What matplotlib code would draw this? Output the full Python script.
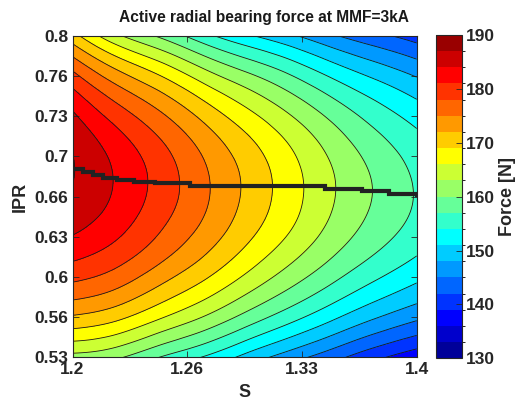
import numpy as np
import matplotlib
matplotlib.use("Agg")
import matplotlib.pyplot as plt
import matplotlib.tri as mtri
from matplotlib.colors import ListedColormap, BoundaryNorm
from matplotlib.cm import ScalarMappable

# Stator-to-rotor ratio S (columns) and inner pole ratio IPR (rows)
S_values = [1.200, 1.225, 1.250, 1.275, 1.300, 1.325, 1.350, 1.375, 1.400]
IPR_values = [0.53, 0.56, 0.59, 0.62, 0.65, 0.68, 0.71, 0.74, 0.77, 0.80]

# Radial bearing force [N]; one row per IPR value, one column per S value
force_053 = [161.9, 160.5, 157.0, 153.9, 150.1, 146.5, 143.2, 139.8, 137.0]
force_056 = [170.6, 168.9, 165.5, 162.1, 158.2, 154.5, 150.9, 147.5, 144.8]
force_059 = [177.4, 175.5, 172.0, 168.4, 164.4, 160.5, 156.8, 153.4, 150.6]
force_062 = [182.4, 180.1, 176.6, 172.8, 168.7, 164.7, 160.8, 157.4, 154.5]
force_065 = [185.7, 182.9, 179.2, 175.3, 171.1, 167.1, 163.0, 159.5, 156.5]
force_068 = [187.1, 183.8, 180.0, 175.8, 171.6, 167.5, 163.4, 159.8, 156.6]
force_071 = [186.6, 182.5, 178.5, 174.2, 170.0, 166.0, 161.9, 158.2, 155.1]
force_074 = [183.6, 178.7, 174.6, 170.2, 166.1, 162.3, 158.4, 154.9, 151.9]
force_077 = [178.1, 172.5, 168.3, 163.8, 160.0, 156.6, 152.9, 149.8, 147.1]
force_080 = [170.1, 163.7, 159.6, 155.2, 151.6, 148.7, 145.5, 142.9, 140.6]

# Optimal IPR (maximum force) for each S
ridge_S = [1.200, 1.206, 1.212, 1.218, 1.226, 1.236, 1.248, 1.268, 1.347, 1.368, 1.384, 1.400]
ridge_IPR = [0.688, 0.6855, 0.6835, 0.681, 0.679, 0.677, 0.6765, 0.6735, 0.6713, 0.6695, 0.6672, 0.666]

cbar_ticks = [130, 140, 150, 160, 170, 180, 190]
x_ticks = [1.2, 1.2667, 1.3333, 1.4]
x_ticklabels = ["1.2", "1.26", "1.33", "1.4"]
y_ticklabels = ["0.53", "0.56", "0.6", "0.63", "0.66", "0.7", "0.73", "0.76", "0.8"]

# 20-step jet colour map
jet20 = [(0, 0, 0.6), (0, 0, 0.8), (0, 0, 1), (0, 0.2, 1), (0, 0.4, 1),
         (0, 0.6, 1), (0, 0.8, 1), (0, 1, 1), (0.2, 1, 0.8), (0.4, 1, 0.6),
         (0.6, 1, 0.4), (0.8, 1, 0.2), (1, 1, 0), (1, 0.8, 0), (1, 0.6, 0),
         (1, 0.4, 0), (1, 0.2, 0), (1, 0, 0), (0.8, 0, 0), (0.6, 0, 0)]
levels = np.arange(130, 191, 3)
cmap = ListedColormap(jet20)
norm = BoundaryNorm(levels, cmap.N)

plt.rcParams["font.family"] = ["Liberation Sans", "DejaVu Sans"]
plt.rcParams["font.weight"] = "bold"

fig = plt.figure(figsize=(5.18, 4.0), dpi=100)
ax = fig.add_axes([0.140, 0.1063, 0.6644, 0.8045])
cax = fig.add_axes([0.8417, 0.1043, 0.0496, 0.8083])

force = np.array([force_053, force_056, force_059, force_062, force_065,
                  force_068, force_071, force_074, force_077, force_080])
SS, II = np.meshgrid(S_values, IPR_values)
triang = mtri.Triangulation(SS.ravel(), II.ravel())
refiner = mtri.UniformTriRefiner(triang)
tri_fine, force_fine = refiner.refine_field(force.ravel(), subdiv=4)

ax.tricontourf(tri_fine, force_fine, levels=levels, cmap=cmap, norm=norm)
ax.tricontour(tri_fine, force_fine, levels=levels, colors="#1a1a1a", linewidths=0.6)
ax.plot(ridge_S, ridge_IPR, drawstyle="steps-post", color="#222222", lw=3.0,
        solid_joinstyle="miter")

ax.set_xlim(1.2, 1.4)
ax.set_ylim(0.53, 0.8)
ax.set_xticks(x_ticks)
ax.set_xticklabels(x_ticklabels)
ax.set_yticks(np.linspace(0.53, 0.8, 9))
ax.set_yticklabels(y_ticklabels)
ax.tick_params(direction="in", length=4, width=0.6, top=True, right=True,
               labelsize=12.5, pad=3, colors="#262626")
for lab in ax.get_xticklabels() + ax.get_yticklabels():
    lab.set_fontweight("bold")
for sp in ax.spines.values():
    sp.set_color("#262626")
    sp.set_linewidth(0.8)
ax.set_xlabel("S", fontsize=13, fontweight="bold", labelpad=5, color="#262626")
ax.set_ylabel("IPR", fontsize=13, fontweight="bold", labelpad=4, color="#262626")

cb = fig.colorbar(ScalarMappable(norm=norm, cmap=cmap), cax=cax, ticks=cbar_ticks)
cb.ax.tick_params(direction="in", length=4, width=0.6, labelsize=12.5, pad=3,
                  colors="#262626")
for lab in cb.ax.get_yticklabels():
    lab.set_fontweight("bold")
cb.outline.set_edgecolor("#262626")
cb.outline.set_linewidth(0.8)
cb.set_label("Force [N]", fontsize=13, fontweight="bold", color="#262626", labelpad=3)

fig.text(0.51, 0.945, "Active radial bearing force at MMF=3kA", ha="center",
         va="baseline", fontsize=11.2, fontweight="bold", color="#1a1a1a")

fig.savefig("out.png", dpi=100)
